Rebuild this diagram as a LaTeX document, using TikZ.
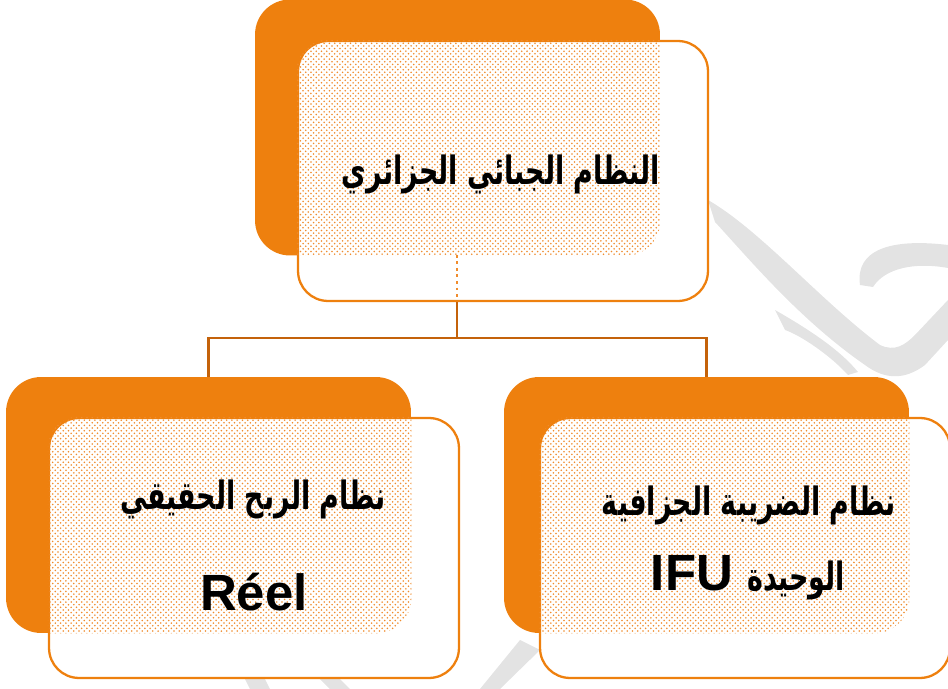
\documentclass[tikz,border=0pt]{standalone}
\usepackage{fontspec}
\usepackage{tikz}
\usetikzlibrary{positioning,patterns}
\setmainfont{Liberation Sans}
\newfontfamily\arabicfont[Script=Arabic]{DejaVu Sans}
\TeXXeTstate=1
\definecolor{orng}{RGB}{238,128,14}
\definecolor{lien}{RGB}{196,98,10}
\definecolor{pointille}{RGB}{240,140,45}
\newcommand{\artexte}[1]{\scalebox{1}[1.45]{\arabicfont\bfseries\fontsize{15.3}{20}\selectfont\beginR #1\endR}}

\begin{document}
\begin{tikzpicture}[x=0.02cm,y=-0.02cm]
\tikzstyle{back}=[rectangle,rounded corners=0.7cm,fill=orng,minimum width=8.1cm,minimum height=5.12cm,inner sep=0pt]
\tikzstyle{front}=[rectangle,rounded corners=0.6cm,fill=white,draw=orng,line width=1.3pt,minimum width=8.2cm,minimum height=5.2cm,inner sep=0pt]
\tikzstyle{dots}=[pattern=crosshatch dots,pattern color=pointille]
\tikzstyle{lat}=[font=\bfseries\fontsize{29}{34}\selectfont]
\tikzstyle{lien}=[draw=lien,line width=1.7pt]
\tikzstyle{filigrane}=[fill=black!11]
\useasboundingbox (0,0) rectangle (948,689);
% filigrane
\fill[filigrane] (708,200) .. controls (760,230) and (820,300) .. (880,345) .. controls (895,352) and (905,345) .. (915,335) -- (948,300) -- (948,340) -- (925,365) .. controls (905,380) and (885,380) .. (865,365) .. controls (800,320) and (750,260) .. (715,222) -- cycle;
\fill[filigrane] (860,285) .. controls (855,250) and (890,238) .. (948,245) -- (948,268) .. controls (915,262) and (885,268) .. (873,287) -- cycle;
\fill[filigrane] (775,310) .. controls (810,330) and (840,350) .. (858,372) -- (848,375) .. controls (830,355) and (800,335) .. (785,330) -- cycle;
\fill[filigrane] (225,640) -- (250,689) -- (270,689) -- (245,640) -- cycle;
\fill[filigrane] (290,650) -- (330,689) -- (350,689) -- (310,650) -- cycle;
\fill[filigrane] (520,640) -- (480,689) -- (500,689) -- (540,650) -- cycle;
% racine
\node[back] (racineB) at (457.5,127.5) {};
\node[front] (racine) at (503,171) {};
\begin{scope}
\clip[rounded corners=0.7cm] (racineB.south west) rectangle (racineB.north east);
\fill[dots,rounded corners=0.6cm] (racine.south west) rectangle (racine.north east);
\end{scope}
\draw[lien,dotted,line width=0.6pt,draw=pointille] (457,255) -- (457,300);
\node (racineT) at (501,174) {\artexte{النظام الجبائي الجزائري}};
% reel
\node[back] (reelB) at (208.5,505) {};
\node[front] (reel) at (254,548) {};
\begin{scope}
\clip[rounded corners=0.7cm] (reelB.south west) rectangle (reelB.north east);
\fill[dots,rounded corners=0.6cm] (reel.south west) rectangle (reel.north east);
\end{scope}
\node (reelT) at (253,499) {\artexte{نظام الربح الحقيقي}};
\node[lat] (reelL) at (254,592) {Réel};
% ifu
\node[back] (ifuB) at (706.5,505) {};
\node[front] (ifu) at (745,548) {};
\begin{scope}
\clip[rounded corners=0.7cm] (ifuB.south west) rectangle (ifuB.north east);
\fill[dots,rounded corners=0.6cm] (ifu.south west) rectangle (ifu.north east);
\end{scope}
\node (ifuT) at (749,505) {\artexte{نظام الضريبة الجزافية}};
\node[lat] (ifuL) at (748,578) {IFU \artexte{الوحيدة}};
% liens
\coordinate (milieu) at (457,338);
\draw[lien] (racine.south -| milieu) -- (milieu);
\draw[lien] (milieu) -| (reelB.north);
\draw[lien] (milieu) -| (ifuB.north);
\end{tikzpicture}
\end{document}
